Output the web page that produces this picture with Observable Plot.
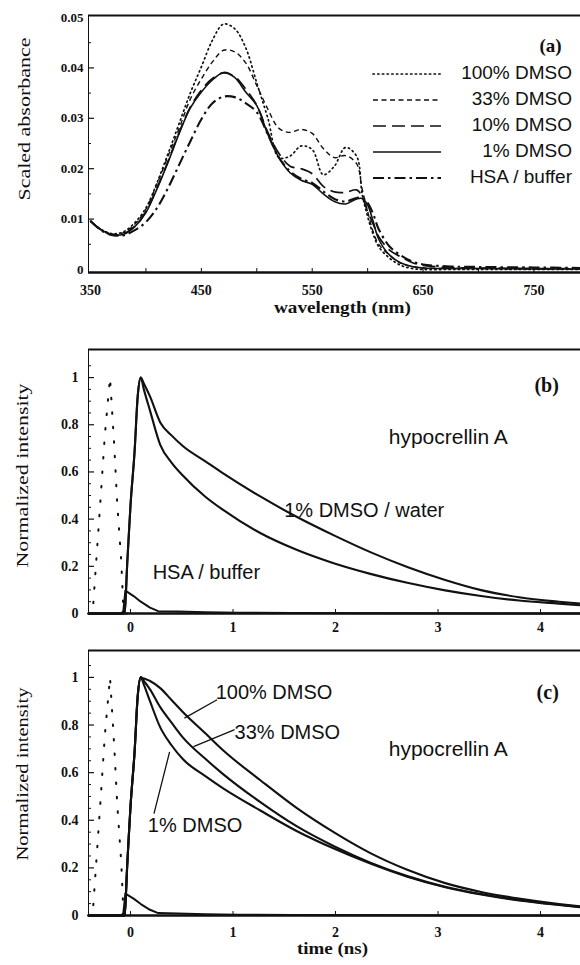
<!DOCTYPE html>
<html><head><meta charset="utf-8">
<script src="https://cdn.jsdelivr.net/npm/d3@7"></script>
<script src="https://cdn.jsdelivr.net/npm/@observablehq/plot@0.6"></script>
<style>
html,body{margin:0;padding:0;background:#fff;}
#wrap{position:relative;width:580px;height:965px;overflow:hidden;background:#fff;}
#wrap > svg{position:absolute;left:0;overflow:visible;}
#legend{position:absolute;left:372px;top:60px;width:200px;font-family:'Liberation Sans',Arial,sans-serif;font-size:19px;color:#111;}
#legend .row{position:relative;height:26px;}
#legend svg{position:absolute;left:0;top:12px;}
#legend span{position:absolute;right:0;top:0;line-height:26px;}
</style></head><body><div id="wrap"><div id="legend"></div></div>
<script>
// ---------- DATA ----------
// Panel (a): absorbance spectra
const wavelength = [350,360,370,380,390,400,410,420,430,440,450,460,470,480,490,500,510,520,530,540,550,560,570,580,590,595,600,605,610,620,630,640,650,675,700,750,792];
const abs100 = [0.0096,0.0079,0.0071,0.0075,0.0093,0.0122,0.0172,0.0230,0.0290,0.0350,0.0402,0.0455,0.0487,0.0478,0.0440,0.0370,0.0300,0.0222,0.0225,0.0245,0.0238,0.0188,0.0205,0.0242,0.0225,0.0150,0.0105,0.0070,0.0045,0.0022,0.0008,0.0002,0.0000,0.0000,0.0000,0.0000,0.0000];
const abs33  = [0.0096,0.0078,0.0070,0.0073,0.0090,0.0120,0.0170,0.0225,0.0280,0.0338,0.0378,0.0412,0.0435,0.0432,0.0410,0.0365,0.0318,0.0280,0.0272,0.0278,0.0270,0.0240,0.0222,0.0226,0.0210,0.0160,0.0115,0.0075,0.0050,0.0028,0.0012,0.0006,0.0003,0.0002,0.0002,0.0001,0.0001];
const abs10  = [0.0096,0.0078,0.0069,0.0071,0.0086,0.0115,0.0162,0.0215,0.0272,0.0322,0.0356,0.0379,0.0390,0.0383,0.0358,0.0326,0.0272,0.0230,0.0205,0.0200,0.0190,0.0165,0.0154,0.0153,0.0158,0.0145,0.0115,0.0090,0.0065,0.0038,0.0025,0.0014,0.0008,0.0004,0.0003,0.0002,0.0002];
const abs1   = [0.0096,0.0078,0.0069,0.0070,0.0085,0.0113,0.0160,0.0213,0.0270,0.0320,0.0352,0.0376,0.0391,0.0381,0.0352,0.0325,0.0268,0.0222,0.0192,0.0177,0.0169,0.0150,0.0135,0.0130,0.0140,0.0141,0.0128,0.0095,0.0060,0.0028,0.0013,0.0006,0.0003,0.0002,0.0002,0.0001,0.0001];
const absHSA = [0.0096,0.0077,0.0068,0.0068,0.0078,0.0094,0.0122,0.0162,0.0208,0.0254,0.0298,0.0330,0.0343,0.0342,0.0330,0.0312,0.0268,0.0222,0.0195,0.0180,0.0172,0.0155,0.0140,0.0135,0.0142,0.0142,0.0132,0.0110,0.0080,0.0045,0.0028,0.0016,0.0010,0.0006,0.0005,0.0004,0.0003];
const absNames = ["100% DMSO","33% DMSO","10% DMSO","1% DMSO","HSA / buffer"];
const wlTicks = [350,450,550,650,750];
const absTicks = [0,0.01,0.02,0.03,0.04,0.05];
const absTickLabels = ["0","0.01","0.02","0.03","0.04","0.05"];

// Panels (b),(c): fluorescence decays
const time = [-0.41,-0.06,-0.03,0.0,0.04,0.07,0.10,0.13,0.19,0.29,0.40,0.51,0.73,0.90,1.27,1.62,1.99,2.34,2.70,3.07,3.42,3.79,4.18,4.39];
const bWater = [0,0,0.23,0.46,0.69,0.92,1.0,0.975,0.92,0.81,0.755,0.71,0.645,0.595,0.495,0.41,0.33,0.26,0.197,0.142,0.099,0.069,0.05,0.042];
const bLower = [0,0,0.23,0.46,0.69,0.92,1.0,0.95,0.86,0.715,0.64,0.585,0.495,0.44,0.34,0.27,0.212,0.168,0.13,0.098,0.074,0.055,0.042,0.035];
const c100 = [0,0,0.23,0.46,0.69,0.92,1.0,0.995,0.985,0.955,0.905,0.855,0.765,0.695,0.567,0.452,0.348,0.262,0.192,0.136,0.099,0.071,0.048,0.038];
const c33  = [0,0,0.23,0.46,0.69,0.92,1.0,0.985,0.95,0.875,0.81,0.748,0.658,0.595,0.475,0.375,0.29,0.222,0.166,0.121,0.09,0.065,0.045,0.036];
const c1   = [0,0,0.23,0.46,0.69,0.92,1.0,0.97,0.90,0.79,0.715,0.657,0.585,0.535,0.44,0.355,0.28,0.218,0.163,0.119,0.088,0.063,0.044,0.035];
const hsaTime = [-0.41,-0.09,-0.07,-0.05,0.03,0.10,0.19,0.27,0.46,0.73,1.05,1.59,2.67,4.39];
const hsaB = [0,0,0.01,0.097,0.074,0.05,0.025,0.01,0.008,0.005,0.003,0.002,0.001,0];
const hsaC = [0,0,0.01,0.092,0.071,0.048,0.024,0.01,0.008,0.005,0.003,0.002,0.001,0];
const irfTime = [-0.41,-0.37,-0.33,-0.29,-0.25,-0.20,-0.16,-0.13,-0.09,-0.07,-0.05,-0.03];
const irf = [0,0,0.25,0.5,0.76,1.0,0.72,0.47,0.22,0.02,0,0];
const timeTicks = [0,1,2,3,4];
const timeTickLabels = ["0","1","2","3","4"];
const intTicks = [0,0.2,0.4,0.6,0.8,1];
const intTickLabels = ["0","0.2","0.4","0.6","0.8","1"];

// annotation anchors (data coordinates)
const annB = [
  {t:3.10, v:0.746, s:"hypocrellin A"},
  {t:2.28, v:0.436, s:"1% DMSO / water"},
  {t:0.74, v:0.174, s:"HSA / buffer"}
];
const annC = [
  {t:3.10, v:0.70, s:"hypocrellin A"},
  {t:1.40, v:0.937, s:"100% DMSO"},
  {t:1.53, v:0.769, s:"33% DMSO"},
  {t:0.63, v:0.378, s:"1% DMSO"}
];
const leadersC = [
  [{t:0.84,v:0.905},{t:0.53,v:0.83}],
  [{t:1.01,v:0.78},{t:0.62,v:0.71}],
  [{t:0.23,v:0.43},{t:0.38,v:0.685}]
];

// ---------- DRAWING ----------
const serif = "'Liberation Serif','Times New Roman',serif";
const sans = "'Liberation Sans',Arial,Helvetica,sans-serif";
const ink = "#111";
const W = 580;
const wrap = document.getElementById("wrap");
const rows = (xs, ys) => xs.map((x, i) => ({x, y: ys[i]}));

const absSeries = [abs100, abs33, abs10, abs1, absHSA];
const absStyle = [
  {dash:"1.3,3.4", w:1.7, cap:"round"},
  {dash:"5,3.5", w:1.4, cap:"butt"},
  {dash:"13,6", w:1.7, cap:"butt"},
  {dash:null, w:1.6, cap:"butt"},
  {dash:"11,4,2.5,4", w:2.1, cap:"butt"}
];

function frameMarks(xd, yd, minorY, majorY, xMinor, pxPerX, pxPerY) {
  const inX = 3 / pxPerX, inXM = 6 / pxPerX, inY = 4 / pxPerY;
  return [
    Plot.ruleY(minorY, {x1: xd[0], x2: xd[0] + inX, stroke: ink, strokeWidth: 1}),
    Plot.ruleY(majorY, {x1: xd[0], x2: xd[0] + inXM, stroke: ink, strokeWidth: 1.2}),
    Plot.ruleX(xMinor, {y1: yd[0], y2: yd[0] + inY, stroke: ink, strokeWidth: 1}),
    Plot.ruleY([yd[1]], {stroke: ink, strokeWidth: 2.2}),
    Plot.ruleY([yd[0]], {stroke: ink, strokeWidth: 2.6}),
    Plot.ruleX([xd[0]], {stroke: ink, strokeWidth: 1})
  ];
}

function place(svg, top) { svg.style.top = top + "px"; wrap.appendChild(svg); }
function fit(svg, str, len) {
  for (const t of svg.querySelectorAll("text")) if (t.textContent === str) {
    t.setAttribute("textLength", len); t.setAttribute("lengthAdjust", "spacingAndGlyphs");
  }
}

// ---- Panel (a) ----
{
  const xd = [348.2, 792], yd = [-0.0006, 0.0504];
  const H = 330, mt = 15, mb = 58, ml = 88;
  const pxX = (W - ml) / (xd[1] - xd[0]), pxY = (H - mt - mb) / (yd[1] - yd[0]);
  const minorY = d3.range(0.005, 0.05, 0.01);
  const marks = [
    ...frameMarks(xd, yd, minorY, absTicks.slice(1, 5), [400,450,500,550,600,650,700,750], pxX, pxY),
    ...absSeries.map((s, i) => Plot.line(rows(wavelength, s), {x: "x", y: "y", stroke: ink,
        strokeWidth: absStyle[i].w, strokeDasharray: absStyle[i].dash, strokeLinecap: absStyle[i].cap, curve: "catmull-rom"})),
    Plot.axisX({ticks: wlTicks, tickSize: 0, tickPadding: 13, label: null, tickFormat: d => String(d), fontSize: 14, fontWeight: "bold", fontFamily: serif}),
    Plot.axisY({ticks: absTicks, tickSize: 0, tickPadding: 5, label: null, tickFormat: (d, i) => absTickLabels[i], fontSize: 13, fontWeight: "bold", fontFamily: serif}),
    Plot.text(["(a)"], {text: d => d, x: 765, y: 0.0444, fontFamily: serif, fontWeight: "bold", fontSize: 19, fill: ink}),
    Plot.text(["Scaled absorbance"], {text: d => d, frameAnchor: "left", textAnchor: "middle", dx: -64, dy: -25, rotate: -90, fontFamily: serif, fontSize: 17, fill: ink}),
    Plot.text(["wavelength (nm)"], {text: d => d, frameAnchor: "bottom", textAnchor: "middle", dx: 8, dy: 40, fontFamily: serif, fontSize: 16, fontWeight: "bold", fill: ink})
  ];
  const svg = Plot.plot({width: W, height: H, marginTop: mt, marginBottom: mb, marginLeft: ml, marginRight: 0,
    x: {domain: xd}, y: {domain: yd}, style: {fontFamily: serif, color: ink, background: "transparent"}, marks});
  fit(svg, "Scaled absorbance", 163);
  fit(svg, "wavelength (nm)", 137);
  place(svg, 0);
}

// ---- legend for (a) ----
{
  const lg = document.getElementById("legend");
  absNames.forEach((name, i) => {
    const row = document.createElement("div"); row.className = "row";
    const st = absStyle[i];
    row.innerHTML = `<svg width="70" height="4"><line x1="1" y1="2" x2="69" y2="2" stroke="${ink}" stroke-width="${st.w}" ${st.dash ? `stroke-dasharray="${st.dash}"` : ""} stroke-linecap="${st.cap}"/></svg><span>${name}</span>`;
    lg.appendChild(row);
  });
}

// ---- Panels (b) & (c) ----
function decayPanel({top, H, mt, mb, yd, curves, hsa, ann, leaders, tag, tagPos, tickPad, labelDy, labelLen, xlabel}) {
  const xd = [-0.41, 4.39];
  const ml = 88;
  const pxX = (W - ml) / (xd[1] - xd[0]), pxY = (H - mt - mb) / (yd[1] - yd[0]);
  const minorY = d3.range(0.05, 1.1, 0.05).filter(v => Math.abs(v / 0.2 - Math.round(v / 0.2)) > 1e-6);
  const marks = [
    ...frameMarks(xd, yd, minorY, intTicks.slice(1), [0,1,2,3,4], pxX, pxY),
    Plot.line(rows(irfTime, irf), {x: "x", y: "y", stroke: ink, strokeWidth: 2, strokeDasharray: "1.5,13", strokeLinecap: "round"}),
    Plot.line(rows(hsaTime, hsa), {x: "x", y: "y", stroke: ink, strokeWidth: 2}),
    ...curves.map(c => Plot.line(rows(time, c), {x: "x", y: "y", stroke: ink, strokeWidth: 2.1, curve: "monotone-x"})),
    ...(leaders || []).map(l => Plot.line(l, {x: "t", y: "v", stroke: ink, strokeWidth: 1.3})),
    Plot.text(ann, {x: "t", y: "v", text: "s", fontFamily: sans, fontSize: d => d.s === "hypocrellin A" ? 21 : 20, fill: ink}),
    Plot.text([tag], {text: d => d, x: tagPos[0], y: tagPos[1], fontFamily: serif, fontWeight: "bold", fontSize: 20, fill: ink}),
    Plot.axisX({ticks: timeTicks, tickSize: 0, tickPadding: tickPad, label: null, tickFormat: (d, i) => timeTickLabels[i], fontSize: 14, fontWeight: "bold", fontFamily: serif}),
    Plot.axisY({ticks: intTicks, tickSize: 0, tickPadding: 10, label: null, tickFormat: (d, i) => intTickLabels[i], fontSize: 14, fontWeight: "bold", fontFamily: serif}),
    Plot.text(["Normalized intensity"], {text: d => d, frameAnchor: "left", textAnchor: "middle", dx: -66, dy: labelDy, rotate: -90, fontFamily: serif, fontSize: 17, fill: ink})
  ];
  if (xlabel) marks.push(Plot.text([xlabel], {text: d => d, frameAnchor: "bottom", textAnchor: "middle", dx: -2, dy: 38, fontFamily: serif, fontSize: 16, fontWeight: "bold", fill: ink}));
  const svg = Plot.plot({width: W, height: H, marginTop: mt, marginBottom: mb, marginLeft: ml, marginRight: 0,
    x: {domain: xd}, y: {domain: yd}, style: {fontFamily: serif, color: ink, background: "transparent"}, marks});
  fit(svg, "Normalized intensity", labelLen);
  if (xlabel) fit(svg, xlabel, 71);
  place(svg, top);
}

decayPanel({top: 330, H: 310, mt: 19, mb: 27, yd: [0, 1.119], curves: [bWater, bLower], hsa: hsaB,
  ann: annB, leaders: null, tag: "(b)", tagPos: [4.06, 0.966], tickPad: 9, labelDy: -6, labelLen: 184});
decayPanel({top: 640, H: 325, mt: 10, mb: 50, yd: [0, 1.113], curves: [c100, c33, c1], hsa: hsaC,
  ann: annC, leaders: leadersC, tag: "(c)", tagPos: [4.07, 0.937], tickPad: 12, labelDy: -9, labelLen: 173, xlabel: "time (ns)"});
</script>
</body></html>
